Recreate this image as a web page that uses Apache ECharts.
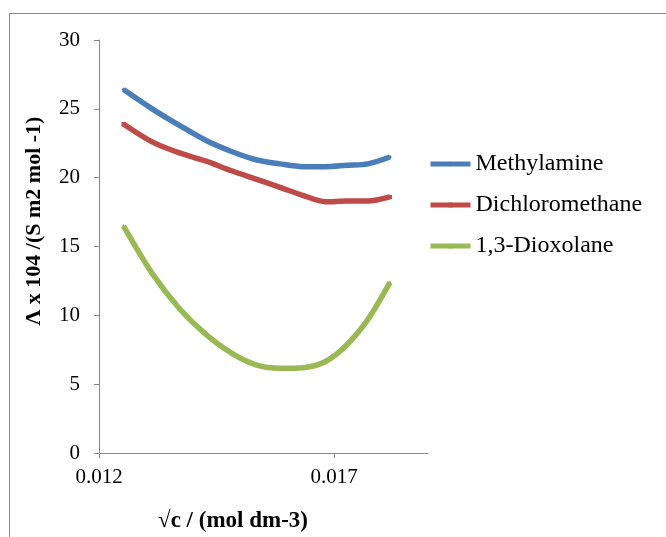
<!DOCTYPE html>
<html>
<head>
<meta charset="utf-8">
<script src="https://cdn.jsdelivr.net/npm/echarts@6/dist/echarts.min.js"></script>
<style>
  html, body { margin: 0; padding: 0; background: #fff; }
  #chart { width: 666px; height: 537px; }
</style>
</head>
<body>
<div id="chart"></div>
<script>
// sqrt(c) values
var sqrtC = [0.01252, 0.01313, 0.01371, 0.01428, 0.01482, 0.01534,
             0.01585, 0.01635, 0.01682, 0.01727, 0.01772, 0.01819];
var methylamine = [26.4, 25.0, 23.8, 22.7, 21.9, 21.3, 21.0, 20.8, 20.8, 20.9, 21.0, 21.5];
var dichloromethane = [23.9, 22.6, 21.8, 21.2, 20.5, 19.9, 19.3, 18.7, 18.25, 18.3, 18.3, 18.6];
var dioxolane = [16.5, 13.05, 10.5, 8.6, 7.25, 6.4, 6.15, 6.2, 6.65, 7.85, 9.7, 12.4];
var xTicks = [0.012, 0.017];

var serif = '"Liberation Serif", "Times New Roman", serif';
var axisGrey = '#868686';

function pairs(ys) {
    return sqrtC.map(function (x, i) { return [x, ys[i]]; });
}

function lineSeries(name, ys, color, symbol) {
    return {
        name: name,
        type: 'line',
        smooth: 0.3,
        data: pairs(ys),
        symbol: symbol,
        symbolSize: 4,
        lineStyle: { width: 5.5, color: color },
        itemStyle: { color: color },
        emphasis: { disabled: true }
    };
}

var myChart = echarts.init(document.getElementById('chart'));
var option = {
    animation: false,
    grid: { left: 99, top: 40, right: 238, bottom: 84 },
    xAxis: {
        type: 'value',
        min: 0.012,
        max: 0.019,
        splitLine: { show: false },
        axisLine: { lineStyle: { color: axisGrey, width: 1 } },
        axisTick: { show: true, length: 5, lineStyle: { color: axisGrey }, customValues: xTicks },
        axisLabel: {
            color: '#000', fontFamily: serif, fontSize: 21, margin: 14,
            customValues: xTicks,
            formatter: function (v) { return v.toFixed(3); }
        }
    },
    yAxis: {
        type: 'value',
        min: 0,
        max: 30,
        interval: 5,
        splitLine: { show: false },
        axisLine: { show: true, lineStyle: { color: axisGrey, width: 1 } },
        axisTick: { show: true, length: 5, lineStyle: { color: axisGrey } },
        axisLabel: { color: '#000', fontFamily: serif, fontSize: 21, margin: 19 }
    },
    legend: {
        orient: 'vertical',
        left: 428,
        top: 152,
        padding: 0,
        itemWidth: 40,
        itemHeight: 6,
        itemGap: 17,
        lineStyle: { width: 5 },
        textStyle: { color: '#000', fontFamily: serif, fontSize: 24 },
        data: ['Methylamine', 'Dichloromethane', '1,3-Dioxolane']
    },
    graphic: [
        { type: 'line', shape: { x1: 9.5, y1: 13.5, x2: 666, y2: 13.5 }, style: { stroke: axisGrey, lineWidth: 1 } },
        { type: 'line', shape: { x1: 9.5, y1: 13.5, x2: 9.5, y2: 537 }, style: { stroke: axisGrey, lineWidth: 1 } },
        {
            type: 'text', x: 34, y: 221, rotation: Math.PI / 2,
            style: {
                text: 'Λ x 104 /(S m2 mol -1)', fill: '#000',
                font: 'bold 22px ' + serif, textAlign: 'center', textVerticalAlign: 'middle'
            }
        },
        {
            type: 'text', x: 233, y: 521,
            style: {
                text: '√c / (mol dm-3)', fill: '#000',
                font: 'bold 23px ' + serif, textAlign: 'center', textVerticalAlign: 'middle'
            }
        }
    ],
    series: [
        lineSeries('Methylamine', methylamine, '#4a7ebb', 'diamond'),
        lineSeries('Dichloromethane', dichloromethane, '#be4b48', 'rect'),
        lineSeries('1,3-Dioxolane', dioxolane, '#98b954', 'triangle')
    ]
};
myChart.setOption(option);
</script>
</body>
</html>
